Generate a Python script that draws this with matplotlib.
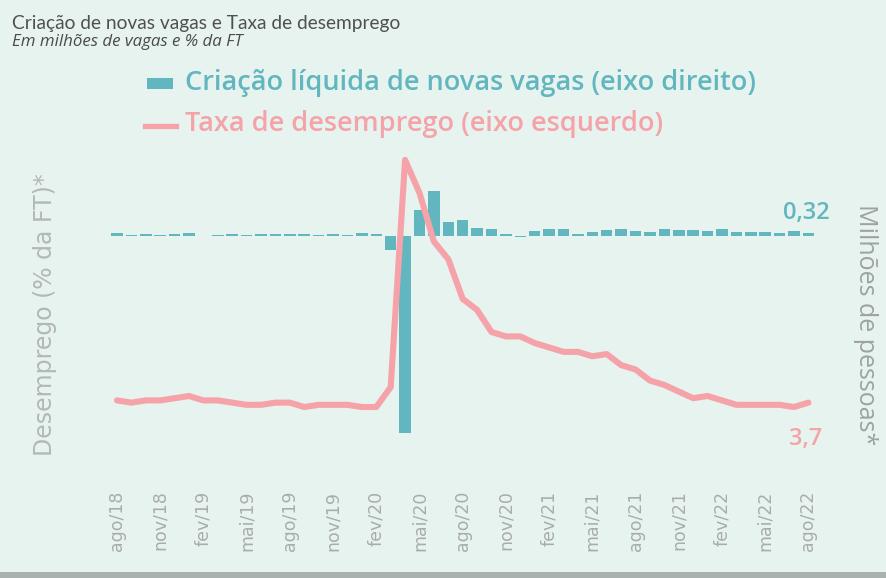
import numpy as np
import matplotlib.pyplot as plt
from matplotlib.patches import Rectangle
from matplotlib.lines import Line2D

# monthly data, ago/18 .. ago/22
meses = ['ago/18', 'set/18', 'out/18', 'nov/18', 'dez/18',
         'jan/19', 'fev/19', 'mar/19', 'abr/19', 'mai/19', 'jun/19',
         'jul/19', 'ago/19', 'set/19', 'out/19', 'nov/19', 'dez/19',
         'jan/20', 'fev/20', 'mar/20', 'abr/20', 'mai/20', 'jun/20',
         'jul/20', 'ago/20', 'set/20', 'out/20', 'nov/20', 'dez/20',
         'jan/21', 'fev/21', 'mar/21', 'abr/21', 'mai/21', 'jun/21',
         'jul/21', 'ago/21', 'set/21', 'out/21', 'nov/21', 'dez/21',
         'jan/22', 'fev/22', 'mar/22', 'abr/22', 'mai/22', 'jun/22',
         'jul/22', 'ago/22']

# unemployment rate (% of labour force)
desemprego = [3.8, 3.7, 3.8, 3.8, 3.9,
              4.0, 3.8, 3.8, 3.7, 3.6, 3.6,
              3.7, 3.7, 3.5, 3.6, 3.6, 3.6,
              3.5, 3.5, 4.4, 14.7, 13.2, 11.0,
              10.2, 8.4, 7.9, 6.9, 6.7, 6.7,
              6.4, 6.2, 6.0, 6.0, 5.8, 5.9,
              5.4, 5.2, 4.7, 4.5, 4.2, 3.9,
              4.0, 3.8, 3.6, 3.6, 3.6, 3.6,
              3.5, 3.7]

# net new jobs (millions)
vagas = [0.28, 0.11, 0.23, 0.12, 0.23,
         0.27, 0.00, 0.15, 0.21, 0.06, 0.18,
         0.16, 0.21, 0.18, 0.15, 0.25, 0.13,
         0.32, 0.25, -1.5, -20.5, 2.7, 4.7,
         1.45, 1.7, 0.85, 0.7, 0.26, -0.1,
         0.52, 0.71, 0.70, 0.26, 0.45, 0.60,
         0.69, 0.52, 0.42, 0.68, 0.65, 0.59,
         0.50, 0.71, 0.40, 0.37, 0.39, 0.29,
         0.53, 0.32]

bg = '#e7f3ef'
teal = '#62b6bf'
pink = '#f5a3a9'
grey = '#a8adab'

W, H = 887, 578
fig = plt.figure(figsize=(W / 100, H / 100), dpi=100, facecolor=bg)

# axes box in pixels: x 100..830, y 140..460
ax2 = fig.add_axes([100 / W, 1 - 460 / H, 730 / W, 320 / H])
ax = ax2.twinx()
ax.set_zorder(ax2.get_zorder() + 1)
ax.patch.set_visible(False)
ax2.set_facecolor(bg)

x = np.arange(len(meses))
ax2.bar(x, vagas, width=0.8, color=teal, linewidth=0)
ax.plot(x, desemprego, color=pink, lw=4.4, solid_capstyle='round',
        solid_joinstyle='round')

ax2.set_xlim(-1.18, 49.5)
ax2.set_ylim(-23.33, 10.0)
ax.set_ylim(1.1, 15.6)

for a in (ax, ax2):
    for s in a.spines.values():
        s.set_visible(False)
    a.set_yticks([])

ax2.set_xticks(x[::3])
ax2.set_xticklabels(meses[::3], rotation=90, va='top', ha='center',
                    fontsize=12.5, color=grey, family='DejaVu Sans')
ax2.tick_params(axis='x', length=0, pad=22)

# end-value labels
ax2.annotate('0,32', (x[-1], vagas[-1]), xytext=(-1.5, 14.5), textcoords='offset points',
             ha='center', va='center', color=teal, fontsize=17, family='Open Sans',
             fontweight='semibold')
ax.annotate('3,7', (x[-1], desemprego[-1]), xytext=(-2, -26.5), textcoords='offset points',
            ha='center', va='center', color=pink, fontsize=17, family='Open Sans',
            fontweight='semibold')

# axis titles
fig.text(45 / W, 1 - 315 / H, 'Desemprego (% da FT)*', rotation=90, ha='center',
         va='center', color='#b3b8b6', fontsize=17, family='DejaVu Sans')
fig.text(866 / W, 1 - 325 / H, 'Milhões de pessoas*', rotation=-90, ha='center',
         va='center', color='#9ea3a1', fontsize=18, family='Open Sans')

# title
fig.text(12 / W, 1 - 23 / H, 'Criação de novas vagas e Taxa de desemprego',
         ha='left', va='center', color='#505050', fontsize=13.8, family='Lato')
fig.text(12 / W, 1 - 42 / H, 'Em milhões de vagas e % da FT', ha='left', va='center',
         color='#4a4a4a', fontsize=12.2, family='Open Sans', style='italic')

# legend
fig.add_artist(Rectangle((147 / W, 1 - 89 / H), 26 / W, 11 / H,
                         transform=fig.transFigure, color=teal, lw=0))
fig.text(185 / W, 1 - 83 / H, 'Criação líquida de novas vagas (eixo direito)',
         ha='left', va='center', color=teal, fontsize=19.5, family='Open Sans',
         fontweight='semibold')
fig.add_artist(Line2D([145 / W, 176 / W], [1 - 125.5 / H, 1 - 125.5 / H],
                      transform=fig.transFigure, color=pink, lw=3.8))
fig.text(185 / W, 1 - 124 / H, 'Taxa de desemprego (eixo esquerdo)',
         ha='left', va='center', color=pink, fontsize=19.5, family='Open Sans',
         fontweight='semibold')

# bottom grey strip of the card
fig.add_artist(Rectangle((0, 0), 1, 6 / H, transform=fig.transFigure,
                         color='#aab2af', lw=0))

fig.savefig('out.png', dpi=100, facecolor=bg)
